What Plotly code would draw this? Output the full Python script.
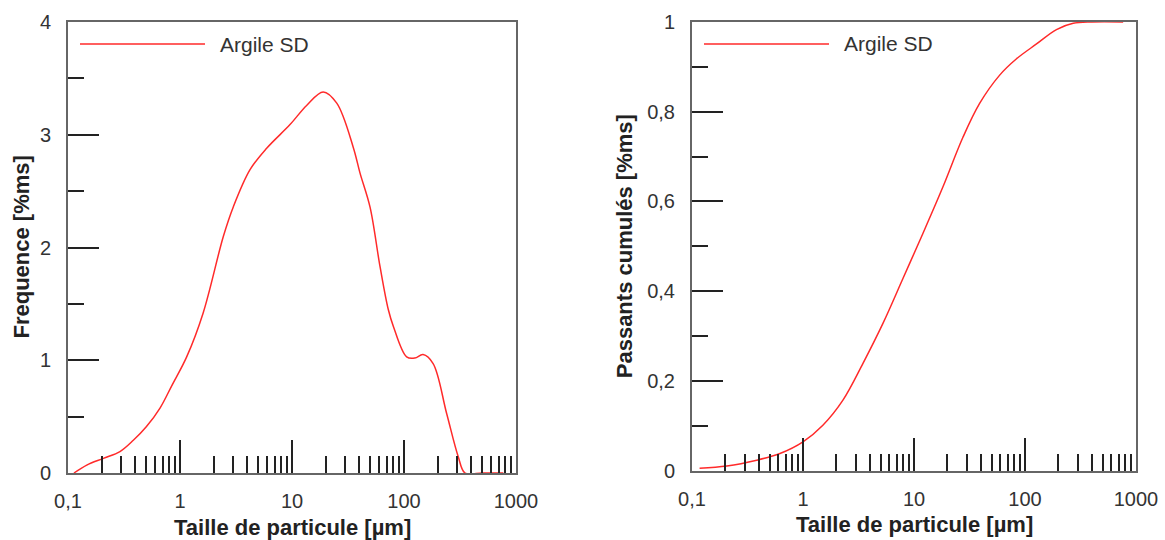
import plotly.graph_objects as go

# ---- data ----
size_freq = [0.113, 0.147, 0.207, 0.291, 0.383, 0.5, 0.663, 0.85, 1.147, 1.61, 2.44, 2.99,
             4.22, 5.94, 9.6, 13.5, 19.0, 25.1, 35.2, 40.5, 49.7, 61.1, 72.4, 80.4, 105.6,
             125, 148, 182, 240, 305, 351, 500, 771]
frequence = [0, 0.07, 0.13, 0.19, 0.29, 0.41, 0.576, 0.78, 1.03, 1.42, 2.10, 2.36,
             2.69, 2.88, 3.09, 3.26, 3.38, 3.28, 2.89, 2.66, 2.36, 1.83, 1.45, 1.30, 1.03,
             1.02, 1.05, 0.97, 0.53, 0.145, 0, 0, 0]

size_cum = [0.117, 0.206, 0.383, 0.62, 1.0, 1.51, 2.29, 3.47, 5.25, 7.95, 12.0, 18.2,
            27.6, 38.9, 58.9, 83.9, 127, 192, 272, 400, 766]
cumul = [0.005, 0.01, 0.023, 0.038, 0.064, 0.101, 0.157, 0.239, 0.328, 0.428, 0.528, 0.632,
         0.743, 0.818, 0.881, 0.918, 0.951, 0.983, 0.997, 1.0, 1.0]

series_name = "Argile SD"
x_tickvals = [0.1, 1, 10, 100, 1000]
x_ticktext = ["0,1", "1", "10", "100", "1000"]
x_minor = [m * d for d in [0.1, 1, 10, 100] for m in range(2, 10)]
y1_tickvals = [0, 1, 2, 3, 4]
y1_ticktext = ["0", "1", "2", "3", "4"]
y2_tickvals = [0, 0.2, 0.4, 0.6, 0.8, 1]
y2_ticktext = ["0", "0,2", "0,4", "0,6", "0,8", "1"]
x_title = "Taille de particule [µm]"
y1_title = "Frequence [%ms]"
y2_title = "Passants cumulés [%ms]"

RED = "#ff2a2a"
FONT = "Liberation Sans, Arial, sans-serif"

fig = go.Figure()
fig.add_trace(go.Scatter(x=size_freq, y=frequence, mode="lines", name=series_name,
                         line=dict(color=RED, width=1.5, shape="spline", smoothing=1.0),
                         xaxis="x", yaxis="y", showlegend=False))
fig.add_trace(go.Scatter(x=size_cum, y=cumul, mode="lines", name=series_name,
                         line=dict(color=RED, width=1.5, shape="spline", smoothing=1.0),
                         xaxis="x2", yaxis="y2", showlegend=False))

W, H = 1165, 540
T, B = 22, 67
ph = H - T - B

common_x = dict(type="log", range=[-1, 3], tickmode="array", tickvals=x_tickvals,
                ticktext=x_ticktext, ticks="inside", ticklen=33, tickwidth=1.5,
                tickcolor="#222", showline=True, linecolor="#666", linewidth=2,
                mirror=True, showgrid=False, zeroline=False, automargin=False,
                tickfont=dict(family=FONT, size=20, color="#333"), ticklabelstandoff=9,
                minor=dict(tickmode="array", tickvals=x_minor, ticks="inside", ticklen=17,
                           tickwidth=1.5, tickcolor="#222", showgrid=False))
common_y = dict(ticks="inside", ticklen=31, tickwidth=1.5, tickcolor="#222",
                showline=True, linecolor="#666", linewidth=2, mirror=True,
                showgrid=False, zeroline=False, automargin=False,
                tickfont=dict(family=FONT, size=20, color="#333"), ticklabelstandoff=11)

fig.update_layout(
    width=W, height=H,
    margin=dict(l=0, r=0, t=T, b=B),
    plot_bgcolor="white", paper_bgcolor="white",
    showlegend=False,
    xaxis=dict(domain=[68 / W, 516 / W], anchor="y", **common_x),
    xaxis2=dict(domain=[692 / W, 1136 / W], anchor="y2", **common_x),
    yaxis=dict(domain=[0, 1], anchor="x", range=[0, 4], tickmode="array",
               tickvals=y1_tickvals, ticktext=y1_ticktext,
               minor=dict(dtick=0.5, ticks="inside", ticklen=16, tickwidth=1.5,
                          tickcolor="#222", showgrid=False),
               **common_y),
    yaxis2=dict(domain=[2.5 / ph, 1], anchor="x2", range=[0, 1], tickmode="array",
                tickvals=y2_tickvals, ticktext=y2_ticktext,
                minor=dict(dtick=0.1, ticks="inside", ticklen=16, tickwidth=1.5,
                           tickcolor="#222", showgrid=False),
                **common_y),
)

# legends (line sample + label) drawn inside each panel
for xr, yr, plot_w in [("x domain", "y domain", 448), ("x2 domain", "y2 domain", 444)]:
    fig.add_shape(type="line", xref=xr, yref=yr,
                  x0=12 / plot_w, x1=137 / plot_w, y0=1 - 22 / 451, y1=1 - 22 / 451,
                  line=dict(color=RED, width=1.5))
    fig.add_annotation(xref=xr, yref=yr, x=150 / plot_w, y=1 - 22 / 451,
                       text=series_name, showarrow=False, xanchor="left", yanchor="middle",
                       font=dict(family=FONT, size=21, color="#333"))

# axis titles
for xr, yr in [("x domain", "y domain"), ("x2 domain", "y2 domain")]:
    fig.add_annotation(xref=xr, yref=yr, x=0.5, y=0, yshift=-54, text="<b>" + x_title + "</b>",
                       showarrow=False, xanchor="center", yanchor="middle",
                       font=dict(family=FONT, size=22, color="#222"))
fig.add_annotation(xref="x domain", yref="y domain", x=0, y=0.5, xshift=-47,
                   text="<b>" + y1_title + "</b>", textangle=-90, showarrow=False,
                   xanchor="center", yanchor="middle",
                   font=dict(family=FONT, size=22, color="#222"))
fig.add_annotation(xref="x2 domain", yref="y2 domain", x=0, y=0.5, xshift=-68,
                   text="<b>" + y2_title + "</b>", textangle=-90, showarrow=False,
                   xanchor="center", yanchor="middle",
                   font=dict(family=FONT, size=22, color="#222"))

fig.write_html("out.html", config={"displayModeBar": False},
               post_script="document.body.style.margin='0';document.body.style.overflow='hidden';")
